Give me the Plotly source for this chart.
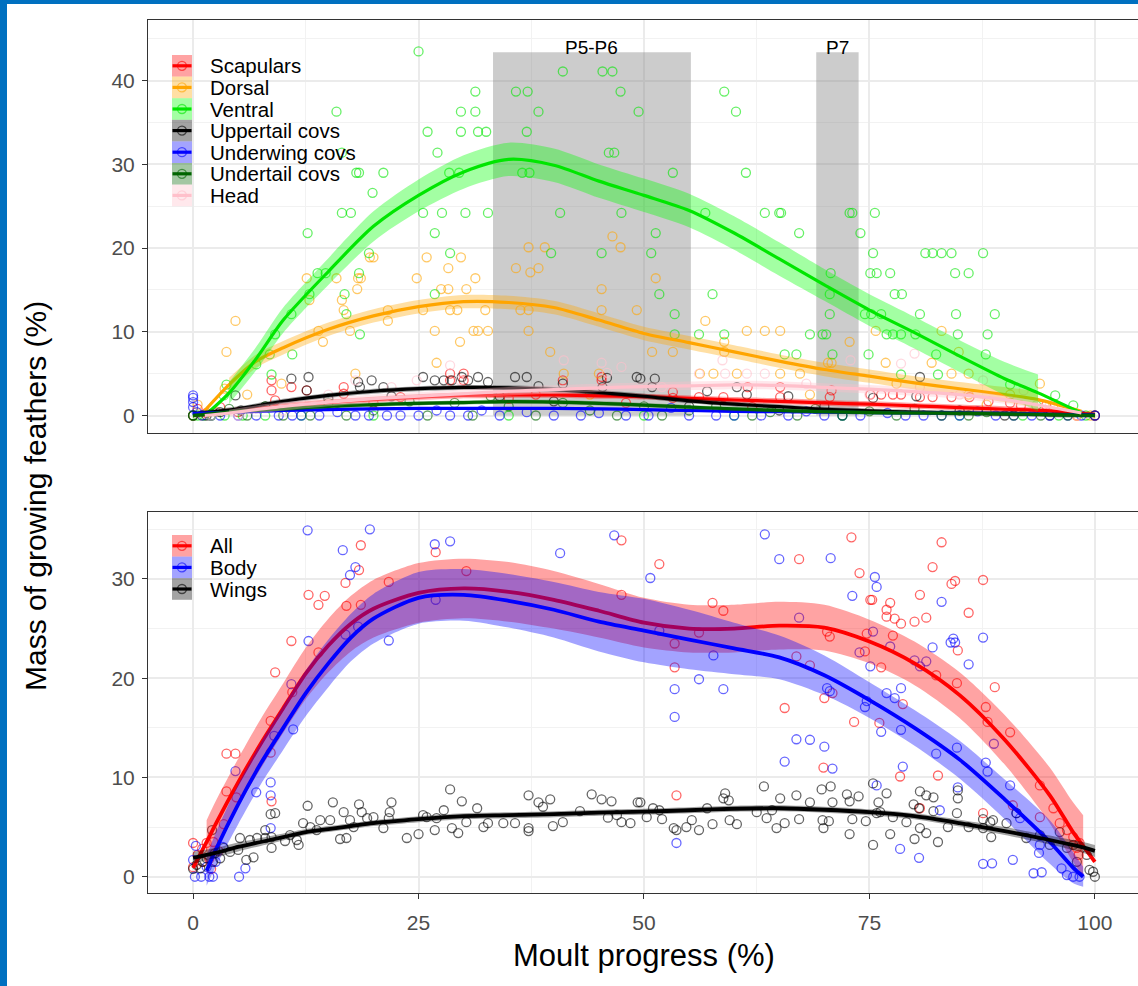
import plotly.graph_objects as go

# ---------------- data ----------------
TOP_SERIES = ["Scapulars", "Dorsal", "Ventral", "Uppertail covs", "Underwing covs", "Undertail covs", "Head"]
BOT_SERIES = ["All", "Body", "Wings"]

SCAP_PTS = [(8.7,4.2),(8.7,3.0),(9.1,1.8),(10.9,3.4),(12.6,3.0),(16.7,3.4),(16.7,2.6),(28.5,5.0),(30.0,5.0),
            (28.5,4.2),(30.0,4.2),(41.0,4.2),(45.3,4.6),(45.3,4.2),(53.2,2.8),(53.2,2.1),(56.1,2.2),(58.8,2.2),
            (61.5,3.4),(65.1,3.4),(65.1,2.2),(70.8,3.0),(70.6,2.2),(75.1,2.5),(76.3,2.5),(77.6,2.5),(78.5,2.5),
            (80.6,2.2),(82.0,2.2),(84.1,2.2),(86.1,2.2),(88.2,1.7),(90.6,1.5),(91.8,1.2),(94.6,1.2),(0,0),
            (0.5,0.8),(1.5,0.3),(3,1.0),(5,0.4),(20,1.5),(23,2.2),(35,2.0),(38,2.5),(48,1.5),(62,1.0),(98,0),(100,0)]
DORS_PTS = [(37.2,20.1),(46.5,21.4),(47.4,20.1),(35.8,17.6),(38.3,17.6),(45.3,15.1),(19.6,18.9),(20.0,18.9),
            (25.9,18.9),(29.7,18.9),(28.3,17.6),(12.6,16.4),(15.9,16.4),(18.3,16.4),(18.6,16.4),(24.8,16.4),
            (31.3,16.4),(51.3,16.4),(27.5,15.1),(28.3,15.1),(30.3,15.1),(4.7,11.3),(3.7,7.6),(16.5,13.8),
            (16.7,12.6),(18.2,15.1),(12.9,13.8),(13.9,10.1),(14.4,8.8),(17.4,10.1),(21.6,12.6),(21.6,11.3),
            (25.5,12.6),(26.8,10.1),(27.0,6.3),(28.5,12.6),(29.3,12.6),(29.6,8.8),(31.1,10.1),(31.6,10.1),
            (32.7,10.1),(32.4,12.6),(36.3,12.6),(37.2,12.6),(37.2,10.1),(39.6,7.6),(41.1,5.0),(45.3,12.6),
            (49.2,12.6),(18.0,5.0),(9.8,3.8),(3.5,3.2),(56.8,11.3),(53.2,7.6),(50.9,7.6),(61.4,10.1),(63.4,10.1),
            (65.1,10.1),(58.9,8.8),(58.9,7.6),(72.8,8.8),(70.4,6.3),(70.8,6.3),(76.8,6.3),(75.7,10.1),(83.0,10.1),
            (84.9,7.6),(81.9,6.3),(84.1,5.0),(86.0,5.0),(56.2,5.0),(57.7,5.0),(60.3,5.0),(67.3,5.0),(65.1,5.0),
            (93.9,3.8),(90.6,2.5),(95.4,1.3),(86.0,2.5),(68.4,2.5),(1.0,0),(2.5,0.5),(0.5,1.3),(6,2.5),(45,5.0),
            (44,2.5),(78,3.8),(88,1.3),(98,0),(99.5,0),(39.0,20.1),(37.4,17.1)]
VENT_PTS = [(25.0,43.5),(41.0,41.1),(45.4,41.1),(46.5,41.1),(31.3,38.7),(35.8,38.7),(37.1,38.7),(47.4,38.7),
            (58.9,38.7),(15.9,36.3),(29.7,36.3),(31.3,36.3),(38.3,36.3),(49.4,36.3),(60.2,36.3),(26.0,33.9),
            (29.7,33.9),(31.6,33.9),(32.5,33.9),(37.0,33.9),(16.5,31.4),(27.1,31.4),(46.1,31.4),(46.7,31.4),
            (18.1,29.0),(18.4,29.0),(21.1,29.0),(28.4,29.0),(29.5,29.0),(36.5,29.0),(37.3,29.0),(53.2,29.0),
            (61.3,29.0),(19.9,26.6),(16.5,24.2),(17.5,24.2),(25.5,24.2),(27.6,24.2),(30.2,24.2),(32.7,24.2),
            (40.7,24.2),(47.5,24.2),(56.8,24.2),(63.4,24.2),(65.0,24.2),(65.2,24.2),(72.8,24.2),(73.1,24.2),
            (75.6,24.2),(12.7,21.8),(26.8,21.8),(51.3,21.8),(67.2,21.8),(74.0,21.8),(19.5,19.4),(28.5,19.4),
            (39.7,19.4),(45.3,19.4),(50.8,19.4),(75.4,19.4),(81.2,19.4),(82.0,19.4),(83.0,19.4),(84.1,19.4),
            (87.6,19.4),(13.8,17.0),(14.7,17.0),(18.4,17.0),(70.7,17.0),(75.1,17.0),(75.8,17.0),(77.3,17.0),
            (84.5,17.0),(86.0,17.0),(12.9,14.5),(16.8,14.5),(26.8,14.5),(51.7,14.5),(57.6,14.5),(70.6,14.5),
            (77.8,14.5),(78.6,14.5),(17.0,12.1),(10.9,12.1),(53.4,12.1),(70.6,12.1),(74.5,12.1),(75.2,12.1),
            (76.3,12.1),(80.6,12.1),(84.6,12.1),(88.9,12.1),(18.5,9.7),(9.1,9.7),(53.4,9.7),(56.1,9.7),
            (58.9,9.7),(68.4,9.7),(69.8,9.7),(70.2,9.7),(76.9,9.7),(77.6,9.7),(78.5,9.7),(80.1,9.7),(84.8,9.7),
            (88.1,9.7),(11.0,7.3),(8.5,7.3),(65.6,7.3),(66.9,7.3),(70.9,7.3),(74.9,7.3),(82.4,7.3),(87.9,7.3),
            (7.0,6.1),(8.7,4.9),(78.5,4.9),(82.6,4.9),(3.7,3.7),(3.4,2.4),(90.6,3.7),(95.6,2.4),(97.6,1.2),
            (93.5,1.2),(0,0),(0.5,0),(1.2,0),(2.0,0),(3.5,0),(5.5,0),(8,0),(12,0),(20,0),(35,0),(50,0),(60,0),
            (72,0),(85,0),(92,0),(96,0),(99,0)]
UPPT_PTS = [(10.9,4.4),(12.8,4.6),(12.6,3.0),(18.3,4.0),(19.8,4.2),(18.5,3.4),(21.1,3.4),(25.5,4.6),(26.8,4.2),
            (27.8,4.2),(28.7,4.2),(29.8,4.6),(30.5,4.2),(31.6,4.6),(32.7,4.0),(35.7,4.6),(37.0,4.6),(38.3,3.5),
            (41.0,3.8),(45.9,4.5),(49.2,4.6),(45.4,3.4),(4.7,2.4),(51.2,4.4),(49.6,4.4),(50.9,3.4),(60.3,3.4),
            (61.4,2.5),(75.4,2.1),(80.6,4.6),(80.2,2.3),(5.3,0.6),(0,0),(1.5,0),(3,0.4),(8,1.1),(15,2.0),
            (22,2.3),(34,2.3),(40,1.7),(55,1.1),(65,0.6),(70,1.1),(85,0.6),(90,0),(95,0),(100,0),(57,2.9),(66,2.3)]
UNDW_PTS = [(0,2.4),(0,2.1),(0,1.6),(0,1.0),(0.4,0.4),(1,0),(2,0),(3,0),(5,0),(7,0),(9.5,0),(11,0),(12,0),
            (14,0),(16,0.4),(18,0),(19.5,0),(21.5,0),(23,0),(25,0),(27,0.6),(28.5,0),(30.5,0),(32,0.6),(34,0),
            (37,0.4),(40,0),(43,0),(45,0.3),(48,0),(50.5,0),(53,0.9),(55,0),(58,0),(60,0),(63,0),(66,0),
            (68,0.5),(70,0),(72,0),(74,0),(77,0.3),(79,0),(81,0),(83,0),(85,0),(87,0.5),(89,0),(91,0),(93,0),
            (95,0),(97,0),(98.5,0),(100,0)]
UNDT_PTS = [(0,0),(2,0),(4,0.8),(6,0),(8,1.1),(10,0),(13,0),(15,1.5),(17,0),(20,0.6),(24,1.7),(26,0),
            (29,1.5),(31,0),(33,2.3),(35,1.1),(38,0),(41,1.5),(44,0.6),(47,0),(50,1.1),(52,0),(55,0.6),
            (58,1.1),(62,0),(64,0.4),(67,0),(69,0.8),(72,0),(75,0.5),(78,0),(80,0.8),(83,0),(86,0),(88,0.4),
            (91,0),(94,0),(97,0)]
HEAD_PTS = [(41.1,6.6),(45.3,6.3),(47.5,5.8),(45.9,5.1),(28.5,6.0),(29.6,4.2),(24.8,4.2),(58.7,6.6),(56.1,5.0),
            (59.0,5.0),(61.4,5.0),(63.4,5.0),(80.0,7.4),(78.5,6.2),(72.9,6.6),(87.6,4.2),(92.1,3.0),(80.6,3.4),
            (15,2.5),(20,1.2),(10,0.6),(5,0),(35,2.5),(52,3.4),(68,3.8),(75,2.5),(85,2.5),(95,1.2),(98,0),
            (2,0),(18,4.2),(22,3.4)]

# smooth fits, top panel
TOP_X_A = [1.3, 4, 7, 10, 15, 20, 25, 30, 35, 40, 45, 50, 55, 60, 65, 70, 75, 80, 85, 90, 93.7, 98.5]
DORS_FIT = [0.6, 3.7, 6.5, 8.1, 10.3, 11.9, 13.0, 13.6, 13.5, 12.9, 11.4, 9.8, 8.7, 7.6, 6.5, 5.5, 4.7, 3.9, 3.2, 2.5, 1.9, 0.5]
DORS_SE = [None, 0.8, 0.8, 0.8, 0.8, 0.8, 0.8, 0.8, 0.8, 0.8, 0.8, 0.8, 0.8, 0.8, 0.8, 0.8, 0.8, 0.8, 0.8, 0.9, 1.0, None]
VENT_FIT = [0.0, 2.7, 6.8, 11.4, 17.2, 22.6, 26.3, 29.1, 30.6, 29.9, 28.0, 26.3, 24.5, 21.8, 18.7, 15.6, 12.6, 9.9, 7.1, 4.4, 2.7, 0.3]
VENT_SE = [None, 1.3, 1.4, 1.5, 1.6, 1.8, 1.9, 2.0, 2.0, 2.0, 2.0, 2.0, 2.0, 2.0, 2.0, 1.9, 1.9, 1.9, 1.9, 2.0, 2.2, None]
HEAD_FIT = [0.0, 0.3, 0.7, 1.1, 1.6, 2.0, 2.3, 2.6, 2.9, 3.1, 3.3, 3.45, 3.55, 3.65, 3.6, 3.35, 3.15, 2.85, 2.5, 1.9, 1.25, 0.3]
HEAD_SE = [None, 0.4, 0.5, 0.5, 0.5, 0.5, 0.5, 0.5, 0.5, 0.5, 0.5, 0.5, 0.5, 0.5, 0.5, 0.5, 0.5, 0.5, 0.5, 0.5, 0.5, None]

TOP_X_B = [0, 5, 10, 15, 20, 25, 30, 35, 40, 45, 50, 55, 60, 65, 70, 75, 80, 85, 90, 95, 100]
SCAP_FIT = [0.05, 0.6, 1.1, 1.55, 1.9, 2.2, 2.4, 2.45, 2.45, 2.35, 2.25, 2.05, 1.85, 1.7, 1.5, 1.35, 1.15, 0.95, 0.75, 0.55, 0.1]
SCAP_SE = [0.3, 0.35, 0.35, 0.35, 0.35, 0.35, 0.35, 0.35, 0.35, 0.35, 0.35, 0.35, 0.35, 0.35, 0.35, 0.35, 0.35, 0.35, 0.35, 0.35, 0.3]
UPPT_FIT = [0.2, 0.8, 1.7, 2.4, 2.9, 3.2, 3.35, 3.3, 3.1, 2.75, 2.3, 1.75, 1.35, 1.05, 0.75, 0.55, 0.4, 0.3, 0.2, 0.1, 0.05]
UPPT_SE = [0.3, 0.3, 0.3, 0.3, 0.3, 0.3, 0.3, 0.3, 0.3, 0.3, 0.3, 0.3, 0.3, 0.3, 0.3, 0.3, 0.3, 0.3, 0.3, 0.3, 0.3]
UNDW_FIT = [0.25, 0.4, 0.6, 0.7, 0.8, 0.85, 0.85, 0.85, 0.85, 0.8, 0.7, 0.6, 0.5, 0.45, 0.4, 0.35, 0.3, 0.28, 0.25, 0.15, 0.05]
UNDW_SE = [0.15] * 21
UNDT_FIT = [0.0, 0.5, 0.8, 1.1, 1.3, 1.45, 1.55, 1.65, 1.6, 1.45, 1.25, 1.0, 0.8, 0.6, 0.45, 0.35, 0.3, 0.25, 0.2, 0.1, 0.0]
UNDT_SE = [0.25] * 21

# bottom panel points
ALL_PTS = [(18.6,33.4),(18.4,30.9),(16.9,29.6),(12.8,28.4),(14.6,28.3),(13.9,27.4),(17.0,27.3),(18.6,27.4),
           (21.7,29.7),(26.9,32.7),(10.9,23.75),(9.1,20.6),(13.9,22.6),(11.0,18.6),(8.6,15.7),(3.7,12.4),
           (4.7,12.4),(8.6,12.5),(3.7,8.6),(4.8,8.0),(8.7,7.6),(0,0.96),(0,3.4),(1.5,3.4),(2.25,3.5),(3.4,5.3),
           (47.5,33.9),(47.5,28.4),(30.3,30.8),(51.7,31.5),(73.0,34.2),(83.0,33.7),(67.2,32.0),(73.9,30.6),
           (82.0,31.2),(84.1,29.5),(84.5,29.8),(87.6,29.9),(75.1,27.9),(75.3,27.9),(77.3,27.6),(76.9,26.9),
           (76.9,26.2),(77.8,26.0),(78.5,25.5),(80.6,28.4),(80.0,25.7),(81.3,26.1),(86.0,26.6),(57.6,27.6),
           (58.8,26.8),(53.4,23.5),(53.4,21.1),(56.1,24.6),(70.3,24.7),(70.6,24.2),(74.7,24.5),(74.5,22.7),
           (77.6,24.3),(84.8,22.8),(82.4,20.3),(84.7,19.5),(88.9,19.1),(87.9,17.1),(88.1,15.6),(90.6,14.55),
           (66.9,22.2),(68.4,21.3),(70.0,18.0),(70.9,18.5),(65.6,17.0),(73.3,15.6),(76.1,15.5),(76.3,21.1),
           (78.7,17.4),(69.9,11.0),(78.4,10.1),(82.6,10.2),(53.6,8.2),(93.9,9.2),(95.4,6.9),(87.6,6.4),
           (96.1,5.4),(96.9,4.7),(97.6,4.0),(98.0,2.9),(98.2,2.2),(80.6,6.9),(90.9,7.2),(93.9,6.0),(98.3,3.4),
           (1.0,1.5),(2.0,0.8),(0.5,2.2),(1.0,2.8),(2.8,2.6),(1.8,1.8)]
BODY_PTS = [(12.7,34.9),(19.6,35.0),(16.6,32.9),(18.0,31.2),(17.4,30.4),(26.8,33.5),(28.5,33.8),(40.7,32.6),
            (46.7,34.4),(12.8,23.75),(21.7,23.8),(10.9,19.4),(9.0,14.2),(11.1,14.85),(7.0,8.5),(8.6,9.5),
            (8.6,8.2),(4.7,10.65),(8.6,4.9),(0.2,0),(0.9,0),(1.8,0),(2.2,0),(5.1,0),(5.8,0.85),(50.7,30.1),
            (16.9,24.4),(18.3,25.2),(63.4,34.5),(65.0,32.0),(70.7,32.1),(75.6,30.2),(75.8,29.2),
            (73.1,28.3),(83.0,27.7),(87.6,24.1),(84.3,24.0),(84.5,23.6),(84.0,23.6),(82.0,23.1),(86.0,21.4),
            (75.4,24.7),(73.9,22.6),(75.1,21.2),(77.3,23.2),(80.0,21.8),(81.3,21.7),(80.6,21.2),(67.2,26.1),
            (57.7,22.3),(51.7,24.8),(56.1,19.9),(58.8,18.9),(53.4,18.9),(53.4,16.1),(70.3,19.0),(70.6,18.7),
            (76.9,18.5),(77.8,18.0),(78.5,19.0),(74.7,17.7),(74.5,17.1),(66.9,13.85),(68.4,13.8),(70.0,13.1),
            (65.6,11.6),(70.9,10.9),(76.3,14.6),(78.5,14.8),(78.7,11.1),(82.4,12.4),(84.7,13.0),(87.9,11.5),
            (88.1,10.6),(88.8,13.4),(90.6,9.2),(84.8,9.0),(53.6,3.4),(78.4,2.8),(80.5,1.9),(87.6,1.3),
            (88.6,1.35),(90.9,1.7),(93.2,0.35),(94.1,0.45),(93.8,2.4),(93.9,3.2),(96.3,0.85),(96.9,0.17),
            (97.6,0),(98.3,0),(91.3,6.4),(91.7,5.9),(82.8,6.7),(75.8,9.2),(26.9,27.9),(0.0,1.7),(0.3,3.1),
            (1.5,1.0),(2.5,1.5),(3.3,3.0)]
WING_PTS = [(28.5,8.8),(37.2,8.2),(38.3,7.5),(39.6,7.8),(38.8,7.05),(44.2,8.3),(45.3,7.8),(46.4,7.6),(49.3,7.5),
            (15.5,7.5),(12.7,7.15),(18.4,7.3),(22.0,7.5),(29.8,7.6),(23.7,3.9),(25.0,4.3),(26.8,4.7),(29.4,4.4),
            (28.7,4.9),(16.3,3.8),(17.0,3.9),(11.7,3.2),(10.2,3.6),(8.6,6.3),(9.1,6.4),(8.0,4.7),(8.7,2.9),
            (6.7,1.95),(5.9,1.7),(0,0.8),(0.8,0.85),(2.1,4.7),(37.2,4.9),(37.2,4.6),(39.9,5.1),(41.0,5.5),
            (47.5,5.5),(46.0,5.95),(42.9,6.6),(34.4,5.4),(35.7,5.4),(32.7,5.4),(32.2,5.0),(31.5,6.9),(30.3,5.5),
            (27.8,6.7),(27.0,5.9),(25.5,6.2),(25.9,6.0),(21.1,4.9),(21.8,6.5),(21.7,5.9),(19.3,5.9),(20.0,6.0),
            (17.4,5.7),(17.8,5.0),(16.7,6.5),(18.7,6.5),(15.2,5.7),(14.1,5.7),(13.0,5.0),(12.2,5.4),(13.7,4.7),
            (10.75,4.2),(11.5,3.7),(8.0,3.9),(8.7,4.0),(5.2,3.9),(6.3,3.7),(7.1,3.9),(5.0,2.7),(4.1,2.5),
            (3.4,2.9),(2.4,2.35),(3.0,1.85),(1.1,1.5),(1.5,1.85),(0.4,1.2),(2.2,1.5),
            (63.3,9.1),(59.0,8.4),(58.8,7.9),(59.4,7.7),(69.7,8.8),(70.7,9.1),(66.9,8.2),(65.1,7.9),(68.4,7.5),
            (75.4,9.4),(76.9,8.4),(76.0,7.5),(72.5,8.3),(73.8,8.1),(80.6,8.6),(81.3,8.2),(82.1,8.0),(84.8,7.9),
            (84.8,8.7),(79.9,7.3),(80.5,6.9),(70.9,7.5),(72.8,7.6),(49.6,7.5),(51.0,6.9),(51.7,6.7),(50.3,6.0),
            (52.0,5.8),(53.3,4.9),(53.6,4.7),(54.7,5.0),(55.3,5.7),(56.1,4.7),(57.0,6.9),(57.6,5.3),(59.5,5.7),
            (60.3,5.3),(62.5,6.5),(63.6,5.9),(64.2,6.7),(64.7,4.9),(65.6,5.4),(67.2,5.8),(69.8,5.7),(69.9,4.9),
            (70.5,5.6),(72.8,4.3),(73.1,5.8),(74.6,5.6),(75.4,3.2),(75.8,6.4),(76.2,6.5),(77.3,4.3),(77.6,6.0),
            (79.1,5.5),(80.0,3.8),(80.6,4.9),(81.3,4.4),(82.6,3.5),(82.1,6.6),(83.7,5.0),(84.7,6.4),(86.0,5.0),
            (87.6,5.8),(88.4,5.5),(88.5,4.0),(88.7,5.7),(87.6,4.9),(90.2,5.4),(91.3,6.4),(92.4,3.9),(93.9,4.2),
            (95.0,3.2),(96.1,4.5),(96.9,2.9),(99.1,2.2),(99.4,0.7),(100,0),(99.8,0.5),(97.6,3.2),(98.0,1.5),
            (47.0,6.2),(48.5,5.4)]

BOT_X = [0, 1.5, 2.5, 5, 7.5, 10, 12.5, 15, 17.5, 20, 25, 30, 35, 40, 45, 50, 55, 60, 65, 70, 75, 80, 85, 90, 95, 97.5, 98.7, 100]
ALL_FIT = [0.9, 3.5, 5.3, 9.5, 13.4, 17.0, 20.5, 23.3, 25.5, 27.0, 28.6, 29.05, 28.7, 27.9, 26.8, 25.6, 25.0, 25.0, 25.3, 25.1, 23.7, 21.5, 18.3, 13.8, 8.2, 4.6, 3.1, 1.5]
ALL_SE = [None, 2.2, 2.3, 2.4, 2.5, 2.5, 2.6, 2.7, 2.8, 2.9, 3.0, 3.0, 3.0, 2.9, 2.7, 2.5, 2.4, 2.4, 2.4, 2.3, 2.2, 2.2, 2.3, 2.5, 2.8, 3.0, 3.1, None]
BODY_FIT = [None, 0.6, 2.7, 7.3, 11.4, 15.0, 18.5, 21.5, 24.1, 26.0, 28.1, 28.4, 27.8, 26.9, 25.7, 24.8, 23.9, 23.0, 22.1, 20.3, 17.8, 15.0, 11.8, 7.8, 3.5, 1.0, 0.0, None]
BODY_SE = [None, 1.5, 1.7, 2.0, 2.1, 2.2, 2.3, 2.4, 2.4, 2.5, 2.6, 2.6, 2.7, 2.8, 3.0, 3.2, 3.0, 2.6, 2.2, 2.0, 1.8, 1.8, 1.9, 2.0, 2.2, 1.6, 1.0, None]
WING_FIT = [1.9, 2.2, 2.4, 3.0, 3.5, 4.0, 4.5, 4.8, 5.1, 5.4, 5.8, 6.1, 6.2, 6.3, 6.45, 6.55, 6.7, 6.85, 6.9, 6.75, 6.5, 6.1, 5.4, 4.6, 3.7, 3.2, 2.95, 2.6]
WING_SE = [0.6, 0.55, 0.5, 0.45, 0.4, 0.35, 0.3, 0.3, 0.3, 0.3, 0.3, 0.3, 0.3, 0.3, 0.3, 0.3, 0.3, 0.3, 0.3, 0.3, 0.3, 0.3, 0.35, 0.4, 0.45, 0.5, 0.55, 0.6]

# moult-stage shaded bands
BANDS = [("P5-P6", 33.26, 55.2), ("P7", 69.1, 73.8)]
BAND_TOP = 43.4

X_TICKS = [0, 25, 50, 75, 100]
TOP_Y_TICKS = [0, 10, 20, 30, 40]
BOT_Y_TICKS = [0, 10, 20, 30]

# ---------------- styling / layout ----------------
W, H = 1138, 986
PL, PR = 148, 1138
TOP_PX = (20, 433)
BOT_PX = (512.3, 893.3)
X_RANGE = [-5.0, 104.78]
TOP_YR = [-2.09, 47.25]
BOT_YR = [-1.67, 36.72]
FONT = "Liberation Sans, Arial, sans-serif"

COLORS = {
    "Scapulars": (255, 0, 0), "Dorsal": (255, 165, 0), "Ventral": (0, 230, 0),
    "Uppertail covs": (0, 0, 0), "Underwing covs": (0, 0, 255), "Undertail covs": (0, 100, 0),
    "Head": (255, 192, 203), "All": (255, 0, 0), "Body": (0, 0, 255), "Wings": (0, 0, 0),
}
FILLC = dict(COLORS)
FILLC["Ventral"] = (0, 255, 0)


def rgba(c, a):
    return "rgba(%d,%d,%d,%.3f)" % (c[0], c[1], c[2], a)


def px2x(px):
    return (px - PL) / (PR - PL)


def py2y(py):
    return 1 - py / H


fig = go.Figure()

top_pts = [SCAP_PTS, DORS_PTS, VENT_PTS, UPPT_PTS, UNDW_PTS, UNDT_PTS, HEAD_PTS]
top_fits = [(TOP_X_B, SCAP_FIT, SCAP_SE), (TOP_X_A, DORS_FIT, DORS_SE), (TOP_X_A, VENT_FIT, VENT_SE),
            (TOP_X_B, UPPT_FIT, UPPT_SE), (TOP_X_B, UNDW_FIT, UNDW_SE), (TOP_X_B, UNDT_FIT, UNDT_SE),
            (TOP_X_A, HEAD_FIT, HEAD_SE)]
bot_pts = [ALL_PTS, BODY_PTS, WING_PTS]
bot_fits = [(BOT_X, ALL_FIT, ALL_SE), (BOT_X, BODY_FIT, BODY_SE), (BOT_X, WING_FIT, WING_SE)]


def add_points(name, pts, xa, ya):
    c = COLORS[name]
    fig.add_trace(go.Scatter(
        x=[p[0] for p in pts], y=[p[1] for p in pts], mode="markers", showlegend=False,
        xaxis=xa, yaxis=ya, hoverinfo="skip",
        marker=dict(symbol="circle-open", size=9, color=rgba(c, 0.6), line=dict(width=1.3, color=rgba(c, 0.6)))))


def add_fit(name, xs, fit, se, xa, ya, lw):
    c = COLORS[name]
    bx = [x for x, f, s in zip(xs, fit, se) if s is not None and f is not None]
    lo = [f - s for x, f, s in zip(xs, fit, se) if s is not None and f is not None]
    hi = [f + s for x, f, s in zip(xs, fit, se) if s is not None and f is not None]
    fig.add_trace(go.Scatter(x=bx, y=lo, mode="lines", line=dict(width=0, shape="spline", smoothing=0.8),
                             showlegend=False, xaxis=xa, yaxis=ya, hoverinfo="skip"))
    fig.add_trace(go.Scatter(x=bx, y=hi, mode="lines", line=dict(width=0, shape="spline", smoothing=0.8),
                             fill="tonexty", fillcolor=rgba(FILLC[name], 0.36),
                             showlegend=False, xaxis=xa, yaxis=ya, hoverinfo="skip"))
    lx = [x for x, f in zip(xs, fit) if f is not None]
    ly = [f for f in fit if f is not None]
    fig.add_trace(go.Scatter(x=lx, y=ly, mode="lines", line=dict(width=lw, color=rgba(c, 1), shape="spline", smoothing=0.8),
                             showlegend=False, xaxis=xa, yaxis=ya, hoverinfo="skip"))


for name, pts in zip(TOP_SERIES, top_pts):
    add_points(name, pts, "x", "y")
for name, (xs, fit, se) in zip(TOP_SERIES, top_fits):
    add_fit(name, xs, fit, se, "x", "y", 3.2)
for name, pts in zip(BOT_SERIES, bot_pts):
    add_points(name, pts, "x2", "y2")
for name, (xs, fit, se) in zip(BOT_SERIES, bot_fits):
    add_fit(name, xs, fit, se, "x2", "y2", 3.8)

shapes = []
annotations = []

# shaded moult bands
for label, x0, x1 in BANDS:
    shapes.append(dict(type="rect", xref="x", yref="y", x0=x0, x1=x1, y0=0, y1=BAND_TOP,
                       fillcolor="rgba(128,128,128,0.4)", line=dict(width=0), layer="between"))
    annotations.append(dict(x=(x0 + x1) / 2, y=BAND_TOP + 0.6, xref="x", yref="y", text=label, showarrow=False,
                            yanchor="middle", font=dict(family=FONT, size=19, color="black")))


# manual legends (ggplot style keys)
def legend(names, top_px):
    row = 21.6
    for i, name in enumerate(names):
        c = COLORS[name]
        y0 = top_px + i * row
        yc = y0 + row / 2
        shapes.append(dict(type="rect", xref="paper", yref="paper", x0=px2x(172), x1=px2x(192),
                           y0=py2y(y0 + row), y1=py2y(y0), fillcolor=rgba(FILLC[name], 0.36), line=dict(width=0),
                           layer="above"))
        shapes.append(dict(type="line", xref="paper", yref="paper", x0=px2x(172.5), x1=px2x(191.5),
                           y0=py2y(yc), y1=py2y(yc), line=dict(color=rgba(c, 1), width=3.2), layer="above"))
        shapes.append(dict(type="circle", xref="paper", yref="paper", xsizemode="pixel", ysizemode="pixel",
                           xanchor=px2x(182), yanchor=py2y(yc), x0=-4.5, x1=4.5, y0=-4.5, y1=4.5,
                           line=dict(color=rgba(c, 0.6), width=1.3), fillcolor="rgba(0,0,0,0)", layer="above"))
        annotations.append(dict(x=px2x(208), y=py2y(yc), xref="paper", yref="paper", text=name, showarrow=False,
                                xanchor="left", yanchor="middle", font=dict(family=FONT, size=20.5, color="black")))


legend(TOP_SERIES, 55)
legend(BOT_SERIES, 535)

# page frame (blue edges of the original screenshot)
FRAME = "#0070C0"
shapes.append(dict(type="rect", xref="paper", yref="paper", x0=px2x(0), x1=px2x(7), y0=0, y1=1,
                   fillcolor=FRAME, line=dict(width=0), layer="above"))
shapes.append(dict(type="rect", xref="paper", yref="paper", x0=px2x(0), x1=1, y0=py2y(4), y1=1,
                   fillcolor=FRAME, line=dict(width=0), layer="above"))

# axis titles
annotations.append(dict(x=px2x(644), y=py2y(955), xref="paper", yref="paper", text="Moult progress (%)",
                        showarrow=False, xanchor="center", yanchor="middle",
                        font=dict(family=FONT, size=31, color="black")))
annotations.append(dict(x=px2x(35), y=py2y(496), xref="paper", yref="paper", text="Mass of growing feathers (%)",
                        showarrow=False, textangle=-90, xanchor="center", yanchor="middle",
                        font=dict(family=FONT, size=30, color="black")))

GRID = "#EBEBEB"
common_x = dict(range=X_RANGE, showgrid=True, gridcolor=GRID, gridwidth=1.8, zeroline=False,
                tickvals=X_TICKS, showline=True, linecolor="#333333", linewidth=1.1, mirror=True,
                automargin=False, minor=dict(tickvals=[12.5, 37.5, 62.5, 87.5], showgrid=True,
                                             gridcolor="#F2F2F2", gridwidth=1, ticks=""))
common_y = dict(showgrid=True, gridcolor=GRID, gridwidth=1.8, zeroline=False, ticks="outside", ticklen=5,
                tickwidth=1.1, tickcolor="#333333", showline=True, linecolor="#333333", linewidth=1.1,
                mirror=False, automargin=False, tickfont=dict(family=FONT, size=21, color="#4D4D4D"),
                ticklabelstandoff=3)

fig.update_layout(
    width=W, height=H, margin=dict(l=PL, r=W - PR, t=0, b=0),
    paper_bgcolor="white", plot_bgcolor="white", showlegend=False,
    xaxis=dict(common_x, domain=[0, 1], anchor="y", showticklabels=False, ticks=""),
    yaxis=dict(common_y, domain=[py2y(TOP_PX[1]), py2y(TOP_PX[0])], anchor="x", range=TOP_YR,
               tickvals=TOP_Y_TICKS, minor=dict(tickvals=[5, 15, 25, 35, 45], showgrid=True,
                                                gridcolor="#F2F2F2", gridwidth=1, ticks="")),
    xaxis2=dict(common_x, domain=[0, 1], anchor="y2", showticklabels=True, ticks="outside", ticklen=5,
                tickwidth=1.1, tickcolor="#333333", tickfont=dict(family=FONT, size=21, color="#4D4D4D"),
                ticklabelstandoff=5),
    yaxis2=dict(common_y, domain=[py2y(BOT_PX[1]), py2y(BOT_PX[0])], anchor="x2", range=BOT_YR,
                tickvals=BOT_Y_TICKS, minor=dict(tickvals=[5, 15, 25, 35], showgrid=True,
                                                 gridcolor="#F2F2F2", gridwidth=1, ticks="")),
    shapes=shapes, annotations=annotations,
)

# the page is photographed from its top-left corner: drop the browser's default body margin
fig.write_html("out.html", config={"displayModeBar": False},
               post_script="document.body.style.margin='0';document.body.style.padding='0';")
